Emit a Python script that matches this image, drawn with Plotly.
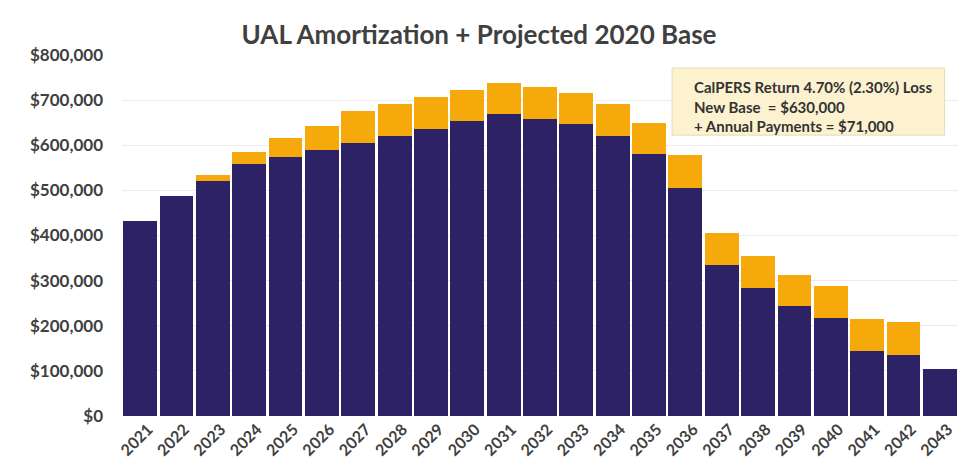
import plotly.graph_objects as go

years = [str(y) for y in range(2021, 2044)]
base_amort = [433000, 487000, 521000, 558000, 573000, 590000, 604000, 621000, 636000, 653000,
              669000, 658000, 647000, 621000, 580000, 506000, 334000, 284000, 243000, 217000,
              145000, 136000, 104000]
new_base = [0, 0, 14000, 26000, 43000, 53000, 71000, 70000, 70000, 70000,
            70000, 70000, 69000, 70000, 70000, 72000, 72000, 70000, 70000, 70000,
            71000, 72000, 0]
y_ticks = [0, 100000, 200000, 300000, 400000, 500000, 600000, 700000, 800000]
y_tick_labels = ["$0", "$100,000", "$200,000", "$300,000", "$400,000", "$500,000",
                 "$600,000", "$700,000", "$800,000"]

FONT = "Lato"
fig = go.Figure()
fig.add_trace(go.Bar(x=years, y=base_amort, marker=dict(color="#2e2266", line=dict(width=0)),
                     name="Current UAL Amortization"))
fig.add_trace(go.Bar(x=years, y=new_base, marker=dict(color="#f6a90a", line=dict(width=0)),
                     name="Projected 2020 Base"))

fig.update_layout(
    barmode="stack",
    bargap=0.07,
    width=958, height=474,
    margin=dict(l=122, r=0, t=55, b=58),
    paper_bgcolor="white",
    plot_bgcolor="white",
    showlegend=False,
    title=dict(text="<b>UAL Amortization + Projected 2020 Base</b>",
               x=0.5, xanchor="center", y=0.926, yanchor="middle",
               font=dict(family=FONT, size=26, color="#404040")),
    font=dict(family=FONT, color="#404040"),
)
fig.update_xaxes(range=[-0.5, 22.5], tickangle=-45, showgrid=False, ticks="",
                 ticklabelshift=8,
                 tickfont=dict(family=FONT, size=16, color="#404040", weight="bold"))
fig.update_yaxes(range=[0, 800000], tickvals=y_ticks, ticktext=y_tick_labels,
                 showgrid=True, gridcolor="#ebebeb", gridwidth=1, zeroline=False,
                 ticks="", ticklen=0, ticklabelstandoff=18,
                 tickfont=dict(family=FONT, size=17, color="#404040", weight="bold"))

fig.add_shape(type="rect", xref="paper", yref="paper",
              x0=0.658, x1=0.984, y0=0.778, y1=0.964,
              fillcolor="#fcf2cf", line=dict(color="#e4dcb8", width=1), layer="above")
fig.add_annotation(
    xref="paper", yref="paper", x=0.682, y=0.942, xanchor="left", yanchor="top",
    align="left", showarrow=False,
    text="CalPERS Return 4.70% (2.30%) Loss<br>New Base  = $630,000<br>+ Annual Payments = $71,000",
    font=dict(family=FONT, size=15, color="#333333", weight="bold"),
)

fig.write_html("out.html")
